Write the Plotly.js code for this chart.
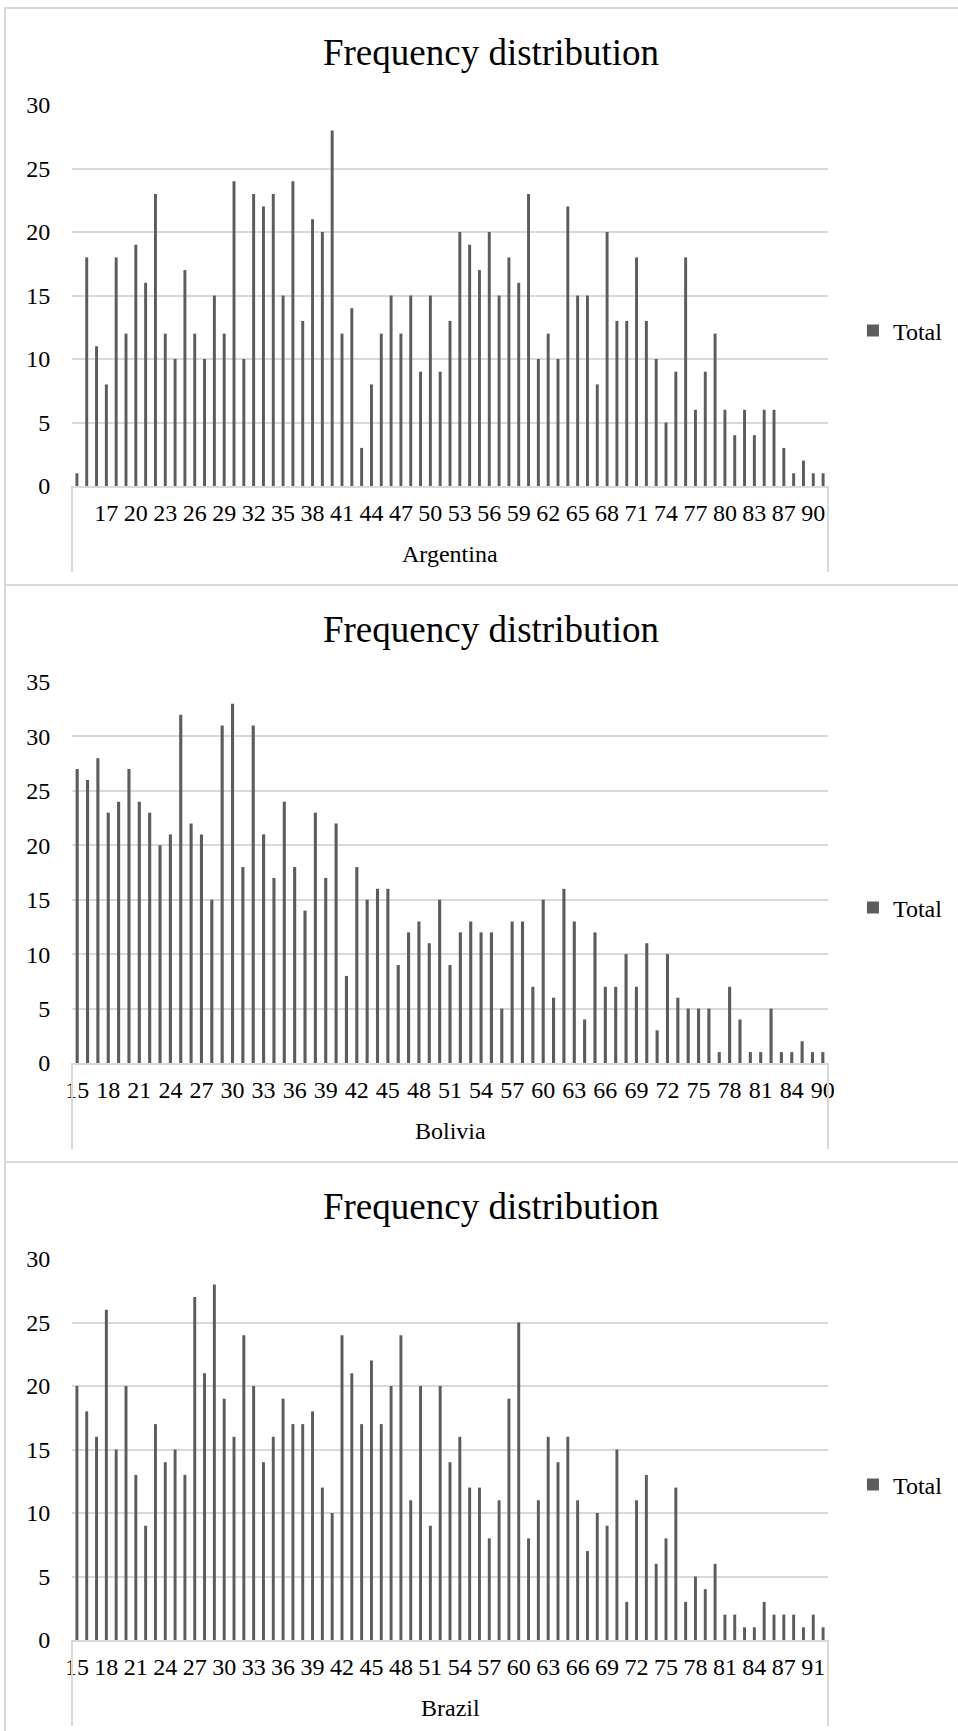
<!DOCTYPE html>
<html>
<head>
<meta charset="utf-8">
<script src="https://cdn.plot.ly/plotly-3.0.1.min.js"></script>
<style>
  html, body { margin: 0; padding: 0; background: #ffffff; }
  body { width: 958px; height: 1731px; overflow: hidden; position: relative; }
  .box { position: absolute; left: 4px; width: 970px; height: 575px; border: 2px solid #d9d9d9; background: #ffffff; }
</style>
</head>
<body>
<div class="box" style="top:7px"><div id="chart-argentina"></div></div>
<div class="box" style="top:584px"><div id="chart-bolivia"></div></div>
<div class="box" style="top:1161px"><div id="chart-brazil"></div></div>
<script>
// Age categories and respondent counts per country
const argentinaAges = ["(blank)", "15", "16", "17", "18", "19", "20", "21", "22", "23", "24",
  "25", "26", "27", "28", "29", "30", "31", "32", "33", "34",
  "35", "36", "37", "38", "39", "40", "41", "42", "43", "44",
  "45", "46", "47", "48", "49", "50", "51", "52", "53", "54",
  "55", "56", "57", "58", "59", "60", "61", "62", "63", "64",
  "65", "66", "67", "68", "69", "70", "71", "72", "73", "74",
  "75", "76", "77", "78", "79", "80", "81", "82", "83",
  "84", "85", "87", "88", "89", "90", "91"];
const argentinaCounts = [1, 18, 11, 8, 18, 12, 19, 16, 23, 12, 10,
  17, 12, 10, 15, 12, 24, 10, 23, 22, 23,
  15, 24, 13, 21, 20, 28, 12, 14, 3, 8,
  12, 15, 12, 15, 9, 15, 9, 13, 20, 19,
  17, 20, 15, 18, 16, 23, 10, 12, 10, 22,
  15, 15, 8, 20, 13, 13, 18, 13, 10, 5,
  9, 18, 6, 9, 12, 6, 4, 6, 4,
  6, 6, 3, 1, 2, 1, 1];
const argentinaTickLabels = ["17", "20", "23", "26", "29", "32", "35", "38", "41", "44", "47",
  "50", "53", "56", "59", "62", "65", "68", "71", "74", "77", "80", "83", "87", "90"];

const boliviaAges = ["15", "16", "17", "18", "19", "20", "21", "22", "23", "24",
  "25", "26", "27", "28", "29", "30", "31", "32", "33", "34",
  "35", "36", "37", "38", "39", "40", "41", "42", "43", "44",
  "45", "46", "47", "48", "49", "50", "51", "52", "53", "54",
  "55", "56", "57", "58", "59", "60", "61", "62", "63", "64",
  "65", "66", "67", "68", "69", "70", "71", "72", "73", "74",
  "75", "76", "77", "78", "79", "80", "81", "82", "83", "84",
  "85", "87", "90"];
const boliviaCounts = [27, 26, 28, 23, 24, 27, 24, 23, 20, 21,
  32, 22, 21, 15, 31, 33, 18, 31, 21, 17,
  24, 18, 14, 23, 17, 22, 8, 18, 15, 16,
  16, 9, 12, 13, 11, 15, 9, 12, 13, 12,
  12, 5, 13, 13, 7, 15, 6, 16, 13, 4,
  12, 7, 7, 10, 7, 11, 3, 10, 6, 5,
  5, 5, 1, 7, 4, 1, 1, 5, 1, 1,
  2, 1, 1];
const boliviaTickLabels = ["15", "18", "21", "24", "27", "30", "33", "36", "39", "42", "45",
  "48", "51", "54", "57", "60", "63", "66", "69", "72", "75", "78", "81", "84", "90"];

const brazilAges = ["15", "16", "17", "18", "19", "20", "21", "22", "23", "24",
  "25", "26", "27", "28", "29", "30", "31", "32", "33", "34",
  "35", "36", "37", "38", "39", "40", "41", "42", "43", "44",
  "45", "46", "47", "48", "49", "50", "51", "52", "53", "54",
  "55", "56", "57", "58", "59", "60", "61", "62", "63", "64",
  "65", "66", "67", "68", "69", "70", "71", "72", "73", "74",
  "75", "76", "77", "78", "79", "80", "81", "82", "83", "84",
  "85", "86", "87", "88", "89", "91", "92"];
const brazilCounts = [20, 18, 16, 26, 15, 20, 13, 9, 17, 14,
  15, 13, 27, 21, 28, 19, 16, 24, 20, 14,
  16, 19, 17, 17, 18, 12, 10, 24, 21, 17,
  22, 17, 20, 24, 11, 20, 9, 20, 14, 16,
  12, 12, 8, 11, 19, 25, 8, 11, 16, 14,
  16, 11, 7, 10, 9, 15, 3, 11, 13, 6,
  8, 12, 3, 5, 4, 6, 2, 2, 1, 1,
  3, 2, 2, 2, 1, 2, 1];
const brazilTickLabels = ["15", "18", "21", "24", "27", "30", "33", "36", "39", "42", "45",
  "48", "51", "54", "57", "60", "63", "66", "69", "72", "75", "78", "81", "84", "87", "91"];

const chartTitle = "Frequency distribution";
const seriesName = "Total";

const SERIF = '"Liberation Serif", "Times New Roman", Times, serif';
const GRID = "#d9d9d9";
const BAR = "#5c5c5c";

// Pixel geometry of each chart box
const W = 970, H = 575;
const M = { l: 66, r: 148, t: 96, b: 98 };
const plotH = H - M.t - M.b;

function drawPanel(divId, ages, counts, tickLabels, country, yMax) {
  const trace = {
    type: "bar",
    x: ages,
    y: counts,
    name: seriesName,
    marker: { color: BAR },
    hoverinfo: "x+y"
  };

  const layout = {
    width: W,
    height: H,
    margin: M,
    paper_bgcolor: "#ffffff",
    plot_bgcolor: "#ffffff",
    font: { family: SERIF, color: "#000000", size: 24 },
    title: {
      text: chartTitle,
      font: { family: SERIF, size: 37, color: "#000000" },
      x: 0.5, xref: "container", xanchor: "center",
      y: 1 - 43 / H, yref: "container", yanchor: "middle"
    },
    bargap: 0.7,
    showlegend: true,
    legend: {
      x: 1.033, xanchor: "left",
      y: 0.407, yanchor: "middle",
      font: { family: SERIF, size: 24, color: "#000000" },
      itemwidth: 30,
      bgcolor: "rgba(0,0,0,0)"
    },
    xaxis: {
      type: "category",
      tickmode: "array",
      tickvals: tickLabels,
      ticktext: tickLabels,
      tickangle: 0,
      ticks: "outside",
      ticklen: 4,
      tickcolor: "rgba(0,0,0,0)",
      showgrid: false,
      zeroline: false,
      showline: true,
      linecolor: GRID,
      linewidth: 2,
      tickfont: { family: SERIF, size: 24, color: "#000000" },
      fixedrange: true
    },
    yaxis: {
      range: [0, yMax],
      tick0: 0,
      dtick: 5,
      showgrid: true,
      gridcolor: GRID,
      gridwidth: 2,
      zeroline: false,
      showline: false,
      ticks: "outside",
      ticklen: 16,
      tickcolor: "rgba(0,0,0,0)",
      tickfont: { family: SERIF, size: 24, color: "#000000" },
      fixedrange: true
    },
    shapes: [
      { type: "line", xref: "paper", yref: "paper", x0: 0, x1: 0, y0: 0, y1: -86 / plotH,
        line: { color: GRID, width: 2 } },
      { type: "line", xref: "paper", yref: "paper", x0: 1, x1: 1, y0: 0, y1: -86 / plotH,
        line: { color: GRID, width: 2 } }
    ],
    annotations: [
      { text: country, xref: "paper", yref: "paper", x: 0.5, y: -68 / plotH,
        xanchor: "center", yanchor: "middle", showarrow: false,
        font: { family: SERIF, size: 24, color: "#000000" } }
    ]
  };

  Plotly.newPlot(divId, [trace], layout, { displayModeBar: false, staticPlot: true });
}

drawPanel("chart-argentina", argentinaAges, argentinaCounts, argentinaTickLabels, "Argentina", 30);
drawPanel("chart-bolivia", boliviaAges, boliviaCounts, boliviaTickLabels, "Bolivia", 35);
drawPanel("chart-brazil", brazilAges, brazilCounts, brazilTickLabels, "Brazil", 30);
</script>
</body>
</html>
